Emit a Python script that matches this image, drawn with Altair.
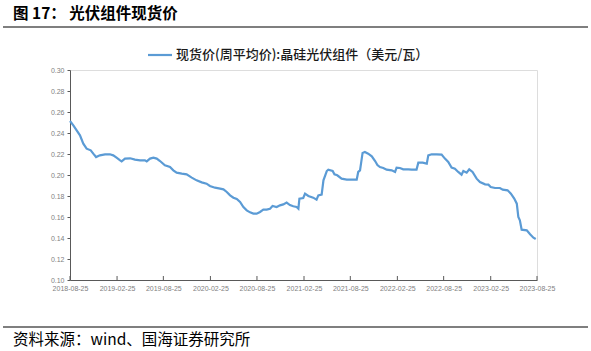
import altair as alt
import pandas as pd

dates = [
    "2018-08-25", "2018-09-07", "2018-09-20", "2018-10-03", "2018-10-16", "2018-10-29",
    "2018-11-14", "2018-11-24", "2018-12-05", "2018-12-20", "2019-01-09", "2019-01-28",
    "2019-02-10", "2019-02-23", "2019-03-09", "2019-03-15", "2019-03-28", "2019-04-17",
    "2019-05-06", "2019-05-26", "2019-06-14", "2019-06-21", "2019-07-04", "2019-07-17",
    "2019-07-30", "2019-08-12", "2019-08-31", "2019-09-20", "2019-10-03", "2019-10-16",
    "2019-11-05", "2019-11-24", "2019-12-14", "2020-01-02", "2020-01-22", "2020-02-10",
    "2020-02-23", "2020-03-14", "2020-04-03", "2020-04-16", "2020-04-29", "2020-05-12",
    "2020-05-25", "2020-06-07", "2020-06-20", "2020-07-03", "2020-07-16", "2020-07-29",
    "2020-08-11", "2020-08-24", "2020-09-06", "2020-09-19", "2020-10-02", "2020-10-15",
    "2020-10-25", "2020-11-10", "2020-11-23", "2020-12-06", "2020-12-19", "2021-01-01",
    "2021-01-14", "2021-01-27", "2021-02-03", "2021-02-07", "2021-02-22", "2021-03-01",
    "2021-03-14", "2021-04-02", "2021-04-15", "2021-04-22", "2021-05-05", "2021-05-12",
    "2021-05-25", "2021-05-31", "2021-06-17", "2021-06-24", "2021-07-05", "2021-07-22",
    "2021-08-11", "2021-08-30", "2021-09-19", "2021-09-25", "2021-10-02", "2021-10-12",
    "2021-10-21", "2021-11-03", "2021-11-17", "2021-11-30", "2021-12-09", "2021-12-19",
    "2022-01-01", "2022-01-14", "2022-02-03", "2022-02-16", "2022-02-22", "2022-03-07",
    "2022-03-20", "2022-04-09", "2022-04-22", "2022-05-11", "2022-05-18", "2022-06-04",
    "2022-06-20", "2022-06-26", "2022-07-09", "2022-07-29", "2022-08-17", "2022-08-30",
    "2022-09-12", "2022-09-25", "2022-10-08", "2022-10-21", "2022-11-03", "2022-11-10",
    "2022-11-23", "2022-12-03", "2022-12-16", "2023-01-01", "2023-01-14", "2023-02-03",
    "2023-02-16", "2023-02-25", "2023-03-14", "2023-04-02", "2023-04-13", "2023-05-02",
    "2023-05-15", "2023-05-28", "2023-06-07", "2023-06-13", "2023-06-19", "2023-06-26",
    "2023-07-16", "2023-07-29", "2023-08-11", "2023-08-20",
]
prices = [
    0.2514, 0.2473, 0.2425, 0.2378, 0.2298, 0.2251,
    0.2235, 0.2203, 0.2171, 0.2187, 0.2197, 0.2197,
    0.2187, 0.2165, 0.2140, 0.2130, 0.2156, 0.2159,
    0.2146, 0.2140, 0.2140, 0.2130, 0.2156, 0.2165,
    0.2156, 0.2133, 0.2092, 0.2076, 0.2044, 0.2022,
    0.2013, 0.2006, 0.1975, 0.1949, 0.1930, 0.1917,
    0.1895, 0.1879, 0.1870, 0.1863, 0.1838, 0.1806,
    0.1784, 0.1771, 0.1743, 0.1695, 0.1663, 0.1644,
    0.1632, 0.1632, 0.1648, 0.1670, 0.1670, 0.1679,
    0.1705, 0.1695, 0.1711, 0.1720, 0.1737, 0.1714,
    0.1702, 0.1695, 0.1679, 0.1775, 0.1781, 0.1822,
    0.1800, 0.1784, 0.1765, 0.1806, 0.1813, 0.1949,
    0.2038, 0.2051, 0.2038, 0.2006, 0.1997, 0.1965,
    0.1956, 0.1956, 0.1956, 0.2029, 0.2044, 0.2210,
    0.2219, 0.2203, 0.2178, 0.2133, 0.2095, 0.2076,
    0.2067, 0.2051, 0.2044, 0.2029, 0.2070, 0.2067,
    0.2054, 0.2054, 0.2051, 0.2051, 0.2117, 0.2117,
    0.2108, 0.2187, 0.2197, 0.2197, 0.2194, 0.2156,
    0.2124, 0.2070, 0.2060, 0.2029, 0.2003, 0.2038,
    0.2022, 0.2054, 0.2029, 0.1965, 0.1933, 0.1911,
    0.1908, 0.1886, 0.1876, 0.1876, 0.1860, 0.1854,
    0.1822, 0.1775, 0.1727, 0.1600, 0.1568, 0.1479,
    0.1473, 0.1435, 0.1403, 0.1390,
]

x_ticks = [(2018, 8), (2019, 2), (2019, 8), (2020, 2), (2020, 8), (2021, 2),
           (2021, 8), (2022, 2), (2022, 8), (2023, 2), (2023, 8)]
y_ticks = [0.10, 0.12, 0.14, 0.16, 0.18, 0.20, 0.22, 0.24, 0.26, 0.28, 0.30]

title_text = "图 17： 光伏组件现货价"
legend_text = "现货价(周平均价):晶硅光伏组件（美元/瓦）"
source_text = "资料来源：wind、国海证券研究所"

LINE_COLOR = "#5B9BD5"
AXIS_COLOR = "#595959"
LABEL_COLOR = "#7F7F7F"
W, H = 467, 210

df = pd.DataFrame({"date": dates, "price": prices})
tick_df = pd.DataFrame({"d": [f"{y}-{m:02d}-25" for y, m in x_ticks]})

x_scale = alt.Scale(type="utc", domain=[alt.DateTime(year=2018, month=8, date=25, utc=True),
                                        alt.DateTime(year=2023, month=8, date=25, utc=True)])
x_values = [alt.DateTime(year=y, month=m, date=25, utc=True) for y, m in x_ticks]

line = alt.Chart(df).mark_line(color=LINE_COLOR, strokeWidth=2.2).encode(
    x=alt.X("date:T", scale=x_scale, title=None,
            axis=alt.Axis(values=x_values, format="%Y-%m-%d", ticks=False,
                          labelPadding=4, labelFontSize=7, labelColor=LABEL_COLOR,
                          labelFont="Liberation Sans", domainColor=AXIS_COLOR,
                          labelOverlap=False, grid=False, labelFlush=False)),
    y=alt.Y("price:Q", scale=alt.Scale(domain=[0.10, 0.30], nice=False, zero=False), title=None,
            axis=alt.Axis(values=y_ticks, format=".2f", tickSize=3, tickColor=AXIS_COLOR,
                          labelPadding=3, labelFontSize=7, labelColor=LABEL_COLOR,
                          labelFont="Liberation Sans", domainColor=AXIS_COLOR, grid=False)),
)

xticks = alt.Chart(tick_df).mark_rule(color=AXIS_COLOR, strokeWidth=1).encode(
    x=alt.X("d:T", scale=x_scale),
    y=alt.value(H - 4), y2=alt.value(H),
)

title = alt.Chart(pd.DataFrame({"t": [title_text]})).mark_text(
    align="left", baseline="alphabetic", fontSize=15.5, fontWeight="bold",
    font="Noto Sans CJK SC", color="#000000").encode(
    text="t:N", x=alt.value(-57), y=alt.value(-51))

title_rule = alt.Chart(pd.DataFrame({"a": [0]})).mark_rule(color="#000000", strokeWidth=1.2).encode(
    x=alt.value(-67), x2=alt.value(518), y=alt.value(-43))

legend_line = alt.Chart(pd.DataFrame({"a": [0]})).mark_rule(color=LINE_COLOR, strokeWidth=2.2).encode(
    x=alt.value(78), x2=alt.value(102), y=alt.value(-15))

legend = alt.Chart(pd.DataFrame({"t": [legend_text]})).mark_text(
    align="left", baseline="middle", fontSize=13, font="Noto Sans CJK SC",
    fontWeight=500, color="#1a1a1a").encode(
    text="t:N", x=alt.value(106), y=alt.value(-15))

foot_rule = alt.Chart(pd.DataFrame({"a": [0]})).mark_rule(color="#000000", strokeWidth=1.2).encode(
    x=alt.value(-67), x2=alt.value(518), y=alt.value(257))

source = alt.Chart(pd.DataFrame({"t": [source_text]})).mark_text(
    align="left", baseline="middle", fontSize=15.5, font="Noto Sans CJK SC",
    color="#000000").encode(
    text="t:N", x=alt.value(-57), y=alt.value(270))

chart = alt.layer(line, xticks, title, title_rule, legend_line, legend, foot_rule, source).properties(
    width=W, height=H,
    autosize=alt.AutoSizeParams(type="none"),
    padding={"left": 70, "top": 70, "right": 54, "bottom": 71},
).configure_view(stroke=None).configure(background="white")

chart.save("out.html", embed_options={"renderer": "svg", "actions": False})
